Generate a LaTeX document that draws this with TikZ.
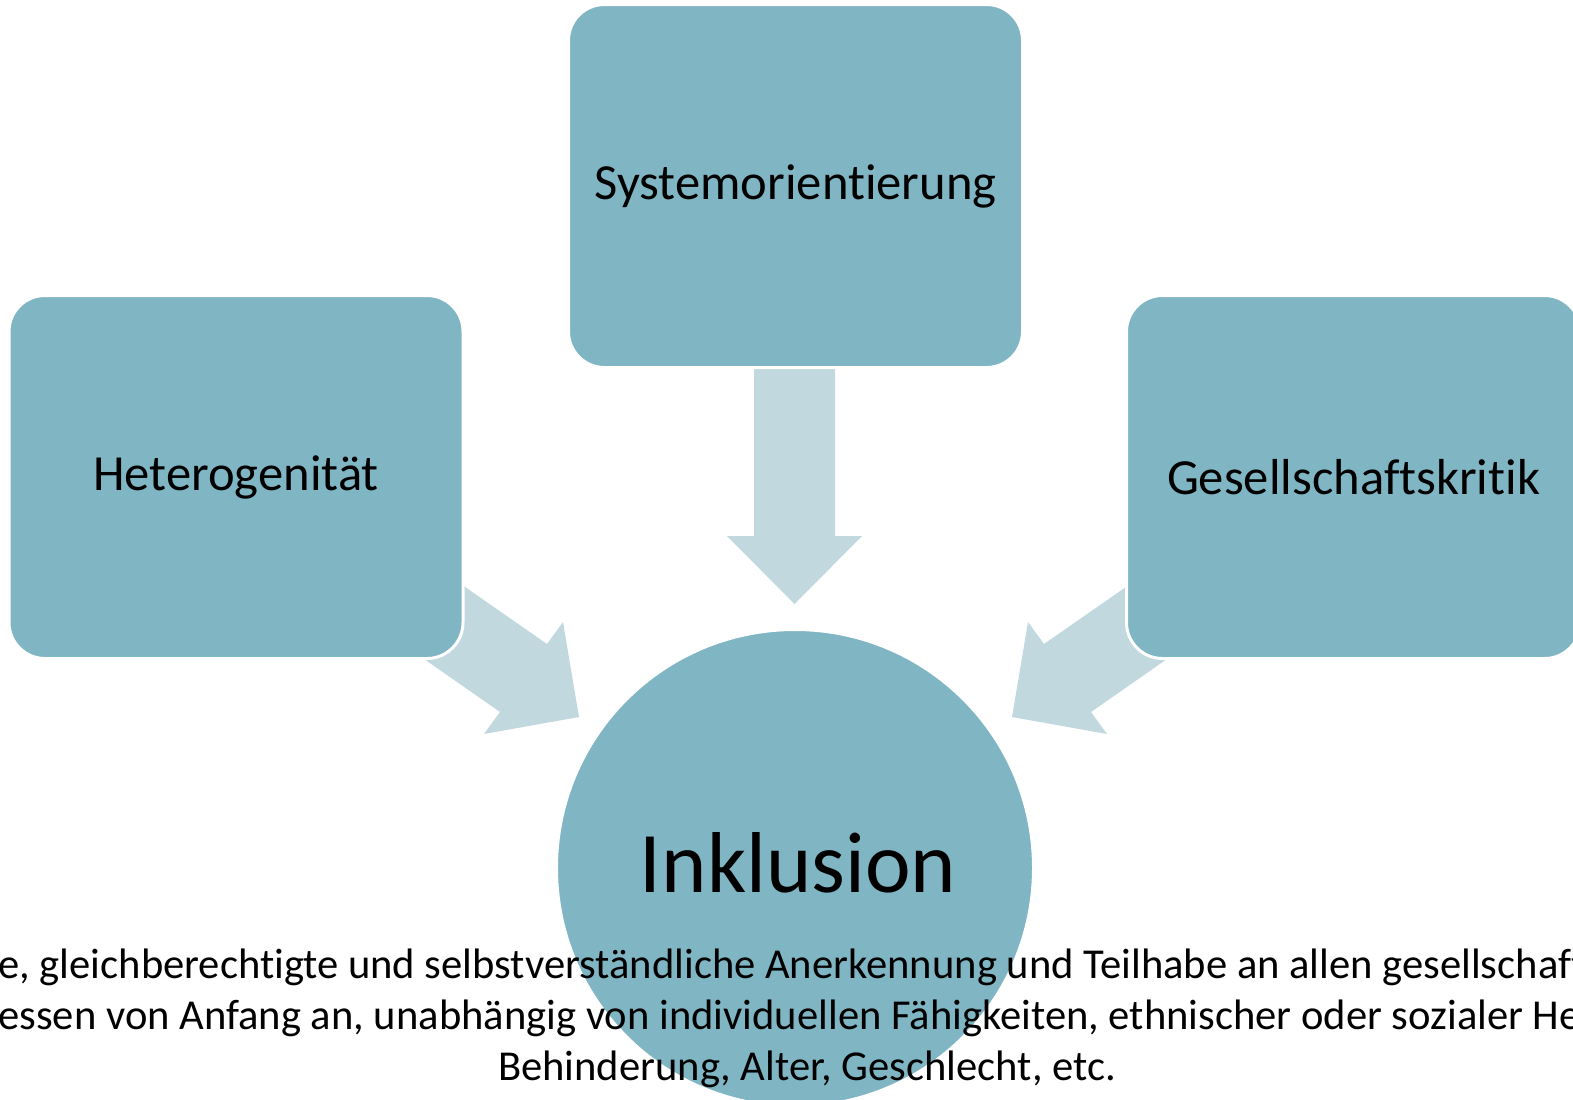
\documentclass[tikz,border=0pt]{standalone}
\usepackage{fontspec}
\setmainfont{Carlito}[Ligatures=NoCommon]
\definecolor{boxfill}{RGB}{128,181,195}
\definecolor{arrowfill}{RGB}{193,216,223}
\begin{document}
\begin{tikzpicture}[x=0.5pt,y=-0.5pt,
  box/.style={rectangle, rounded corners=18pt, fill=boxfill, draw=white,
    line width=1.5pt, minimum width=227pt, minimum height=181.5pt,
    inner sep=0pt, font=\fontsize{25.3}{30}\selectfont},
  hub/.style={circle, fill=boxfill, draw=white, line width=1.5pt,
    minimum size=238.5pt, inner sep=0pt},
  blockarrow/.style={fill=arrowfill},
  caption/.style={inner sep=0pt, font=\fontsize{21.3}{25}\selectfont}]
\useasboundingbox (0,0) rectangle (1573,1099);
\clip (0,0) rectangle (1573,1099);

% block arrows pointing to the centre (drawn first, boxes cover their tails)
\fill[blockarrow] (754,369) -- (754,536) -- (727,536) -- (794.5,604)
  -- (862,536) -- (835,536) -- (835,369) -- cycle;
\fill[blockarrow] (399,541) -- (547,644) -- (563,622) -- (579,717)
  -- (484,734) -- (500,712) -- (361,615) -- cycle;
\fill[blockarrow] (1192,541) -- (1044,644) -- (1028,622) -- (1012,717)
  -- (1107,734) -- (1091,712) -- (1230,615) -- cycle;

% the three aspects
\node[box] (sys) at (795.5,186) {Systemorientierung};
\node[box] (het) at (236,477) {Heterogenität};
\node[box] (ges) at (1353.5,477) {Gesellschaftskritik};

% central circle
\node[hub] (inkl) at (795,868) {};
\node[font=\fontsize{43.2}{50}\selectfont, inner sep=0pt] (inkltext) at (798,863) {Inklusion};

% definition text
\node[caption, anchor=base west] (line1) at (-2,978)
  {e, gleichberechtigte und selbstverständliche Anerkennung und Teilhabe an allen gesellschaft};
\node[caption, anchor=base west] (line2) at (-2,1029)
  {essen von Anfang an, unabhängig von individuellen Fähigkeiten, ethnischer oder sozialer He};
\node[caption, anchor=base] (line3) at (807,1080)
  {Behinderung, Alter, Geschlecht, etc.};
\end{tikzpicture}
\end{document}
